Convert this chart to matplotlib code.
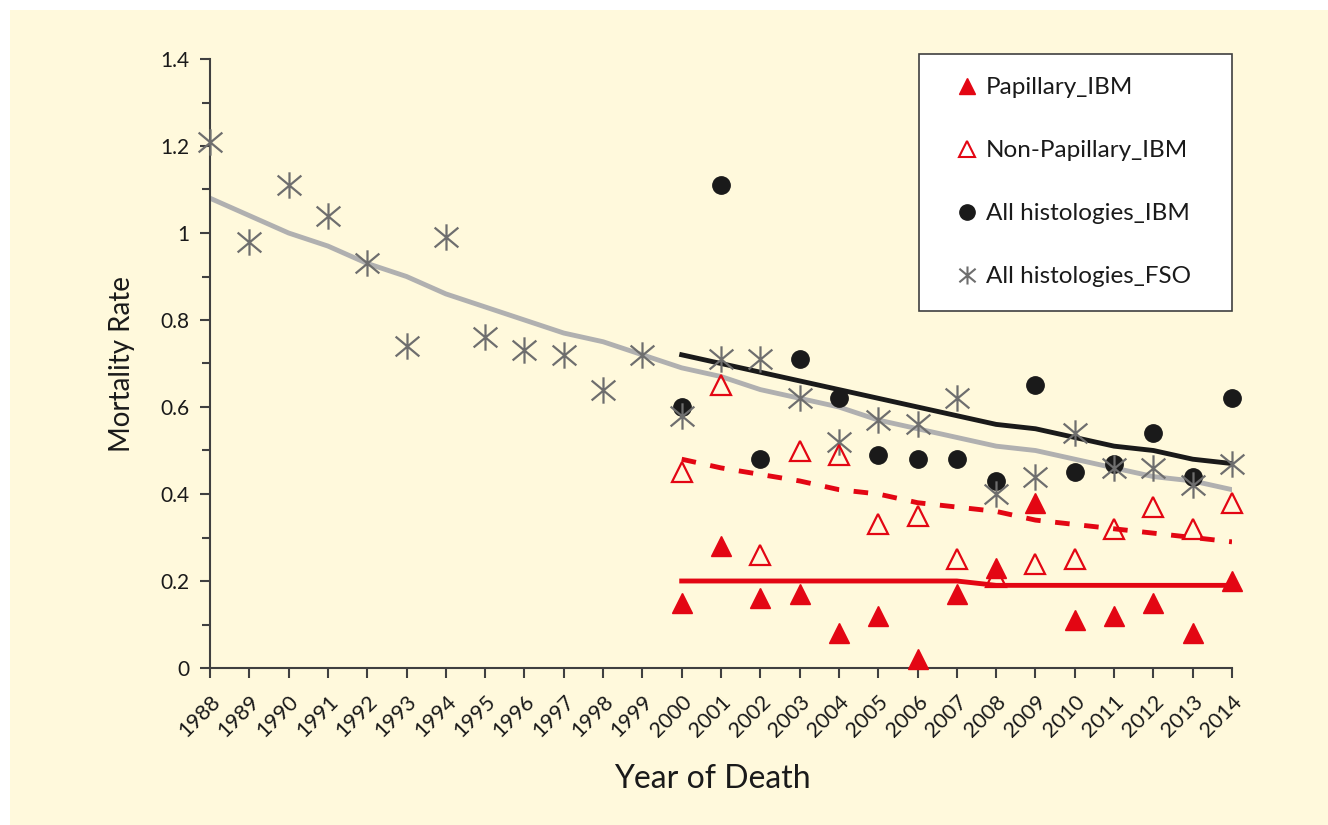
import matplotlib
matplotlib.use("Agg")
import matplotlib.pyplot as plt
from matplotlib.lines import Line2D
from matplotlib.path import Path
from matplotlib.patches import Rectangle
from matplotlib.ticker import MultipleLocator, FuncFormatter

plt.rcParams['font.family'] = ['Lato', 'DejaVu Sans']

years_fso = list(range(1988, 2015))
years_ibm = list(range(2000, 2015))

fso_points = [1.21, 0.98, 1.11, 1.04, 0.93, 0.74, 0.99, 0.76, 0.73, 0.72, 0.64, 0.72,
              0.58, 0.71, 0.71, 0.62, 0.52, 0.57, 0.56, 0.62, 0.40, 0.44, 0.54, 0.46,
              0.46, 0.42, 0.47]
fso_trend = [1.08, 1.04, 1.00, 0.97, 0.93, 0.90, 0.86, 0.83, 0.80, 0.77, 0.75, 0.72,
             0.69, 0.67, 0.64, 0.62, 0.60, 0.57, 0.55, 0.53, 0.51, 0.50, 0.48, 0.46,
             0.44, 0.43, 0.41]

all_ibm = [0.60, 1.11, 0.48, 0.71, 0.62, 0.49, 0.48, 0.48, 0.43, 0.65, 0.45, 0.47, 0.54, 0.44, 0.62]
all_ibm_trend = [0.72, 0.70, 0.68, 0.66, 0.64, 0.62, 0.60, 0.58, 0.56, 0.55, 0.53, 0.51, 0.50, 0.48, 0.47]

pap = [0.15, 0.28, 0.16, 0.17, 0.08, 0.12, 0.02, 0.17, 0.23, 0.38, 0.11, 0.12, 0.15, 0.08, 0.20]
pap_trend = [0.20, 0.20, 0.20, 0.20, 0.20, 0.20, 0.20, 0.20, 0.19, 0.19, 0.19, 0.19, 0.19, 0.19, 0.19]

nonpap = [0.45, 0.65, 0.26, 0.50, 0.49, 0.33, 0.35, 0.25, 0.21, 0.24, 0.25, 0.32, 0.37, 0.32, 0.38]
nonpap_trend = [0.48, 0.46, 0.445, 0.43, 0.41, 0.40, 0.38, 0.37, 0.36, 0.34, 0.33, 0.32, 0.31, 0.30, 0.29]

RED = '#e30613'
GRAY_PT = '#6e6e6e'
GRAY_LN = '#b0b0b0'
BLACK = '#1a1a1a'

# excel-like asterisk: vertical stroke plus an X
star = Path([(0, -1), (0, 1), (-0.9, -0.75), (0.9, 0.75), (-0.9, 0.75), (0.9, -0.75)],
            [Path.MOVETO, Path.LINETO, Path.MOVETO, Path.LINETO, Path.MOVETO, Path.LINETO])

fig = plt.figure(figsize=(13.28, 8.25), dpi=100)
fig.patch.set_facecolor('white')
fig.patches.append(Rectangle((10 / 1328, 0), 1, 1 - 10 / 825, transform=fig.transFigure,
                             facecolor='#fff9dc', edgecolor='none', zorder=-10))

ax = fig.add_axes([210 / 1328, 1 - 668 / 825, 1022 / 1328, 609 / 825])
ax.set_facecolor('none')

ax.plot(years_fso, fso_trend, color=GRAY_LN, lw=3.5, zorder=2)
ax.plot(years_ibm, all_ibm_trend, color=BLACK, lw=3.5, zorder=2)
ax.plot(years_ibm, pap_trend, color=RED, lw=3.5, zorder=2)
ax.plot(years_ibm, nonpap_trend, color=RED, lw=3.5, ls=(0, (3, 3)), zorder=2)

ax.plot(years_ibm, all_ibm, 'o', color=BLACK, ms=12.5, zorder=3, clip_on=False)
ax.plot(years_fso, fso_points, ls='none', marker=star, ms=19, mec=GRAY_PT, mew=1.6,
        zorder=4, clip_on=False)
ax.plot(years_ibm, nonpap, '^', mfc='none', mec=RED, ms=14, mew=1.6, zorder=4, clip_on=False)
ax.plot(years_ibm, pap, '^', color=RED, ms=14, zorder=4, clip_on=False)

ax.set_xlim(1988, 2014)
ax.set_ylim(0, 1.4)
ax.set_xticks(years_fso)
ax.set_xticklabels([str(y) for y in years_fso], rotation=45, ha='right', rotation_mode='anchor')
ax.yaxis.set_major_locator(MultipleLocator(0.2))
ax.yaxis.set_minor_locator(MultipleLocator(0.1))
ax.yaxis.set_major_formatter(FuncFormatter(lambda v, p: '{:g}'.format(round(v, 1))))

for s in ['top', 'right']:
    ax.spines[s].set_visible(False)
for s in ['left', 'bottom']:
    ax.spines[s].set_color('#404040')
    ax.spines[s].set_linewidth(1.5)
ax.tick_params(axis='both', which='both', color='#404040', width=1.5, labelcolor='#1a1a1a')
ax.tick_params(axis='y', which='major', length=7, pad=8, labelsize=15)
ax.tick_params(axis='y', which='minor', length=6)
ax.tick_params(axis='x', length=7, pad=10, labelsize=15.5)

ax.set_ylabel('Mortality Rate', fontsize=20, color='#1a1a1a', labelpad=18)
ax.set_xlabel('Year of Death', fontsize=23, color='#1a1a1a', va='center')
ax.xaxis.set_label_coords((712 - 210) / 1022, (668 - 779) / 609)

handles = [
    Line2D([], [], ls='none', marker='^', color=RED, ms=11),
    Line2D([], [], ls='none', marker='^', mfc='none', mec=RED, ms=11, mew=1.5),
    Line2D([], [], ls='none', marker='o', color=BLACK, ms=11),
    Line2D([], [], ls='none', marker=star, mec=GRAY_PT, ms=13, mew=1.5),
]
labels = ['Papillary_IBM', 'Non-Papillary_IBM', 'All histologies_IBM', 'All histologies_FSO']
leg = ax.legend(handles, labels, loc='upper left', bbox_to_anchor=(0.694, 1.008, 0.306, 0.0),
                mode='expand', fontsize=17.5, labelspacing=1.73, borderpad=0.95,
                handlelength=2.0, handletextpad=-0.2, borderaxespad=0, fancybox=False,
                framealpha=1, facecolor='white', edgecolor='#404040')
leg.get_frame().set_linewidth(1.2)
for t in leg.get_texts():
    t.set_color('#1a1a1a')

fig.savefig('out.png', dpi=100)
